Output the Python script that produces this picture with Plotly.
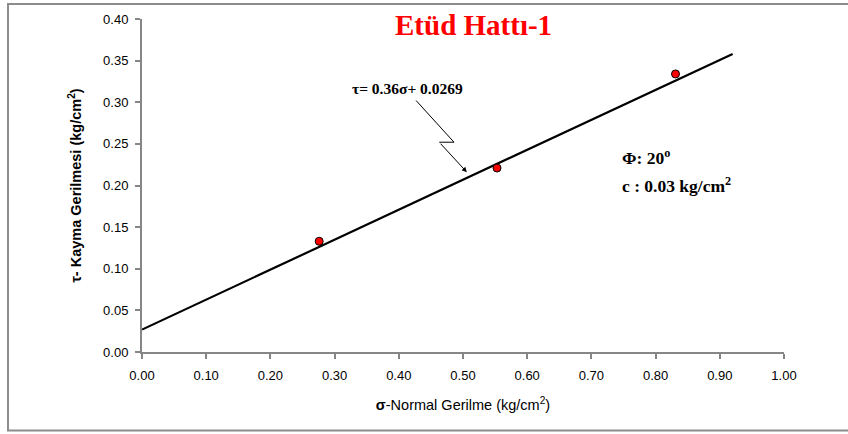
import plotly.graph_objects as go

# Direct shear test results: normal stress vs shear stress (kg/cm2)
sigma = [0.276, 0.553, 0.831]
tau = [0.133, 0.221, 0.334]

# Mohr-Coulomb failure envelope: tau = 0.36 sigma + 0.0269
slope = 0.36
intercept = 0.0269
fit_x = [0.0, 0.92]
fit_y = [slope * x + intercept for x in fit_x]

x_ticks = [0.0, 0.1, 0.2, 0.3, 0.4, 0.5, 0.6, 0.7, 0.8, 0.9, 1.0]
y_ticks = [0.0, 0.05, 0.1, 0.15, 0.2, 0.25, 0.3, 0.35, 0.4]

sans = "Liberation Sans Narrow, Arial Narrow, Liberation Sans, Arial"
tick_font = dict(family=sans, size=13, color="#000")
serif = "Liberation Serif, Times New Roman, serif"

fig = go.Figure()
fig.add_trace(go.Scatter(x=fit_x, y=fit_y, mode="lines",
                         line=dict(color="black", width=2.2), showlegend=False))
fig.add_trace(go.Scatter(x=sigma, y=tau, mode="markers",
                         marker=dict(color="#ff0000", size=8, line=dict(color="black", width=1)),
                         showlegend=False))

fig.update_xaxes(range=[0, 1.0], tickvals=x_ticks, ticktext=[f"{v:.2f}" for v in x_ticks],
                 showgrid=False, zeroline=False, showline=True, linecolor="#868686", linewidth=2,
                 ticks="outside", ticklen=5, tickcolor="#868686", tickwidth=1.5,
                 tickfont=tick_font, ticklabelstandoff=5,
                 title=dict(text="<b>σ</b>-Normal Gerilme (kg/cm<sup>2</sup>)",
                            font=dict(family=sans, size=14.5, color="#000"),
                            standoff=18))
fig.update_yaxes(range=[0, 0.40], tickvals=y_ticks, ticktext=[f"{v:.2f}" for v in y_ticks],
                 showgrid=False, zeroline=False, showline=True, linecolor="#868686", linewidth=2,
                 ticks="outside", ticklen=5, tickcolor="#868686", tickwidth=1.5,
                 tickfont=tick_font, ticklabelstandoff=4,
                 title=dict(text="<b>τ- Kayma Gerilmesi (kg/cm<sup>2</sup>)</b>",
                            font=dict(family="Liberation Sans, Arial", size=14.5, color="#000"),
                            standoff=18))

# Equation label with zig-zag leader
fig.add_annotation(x=0.414, y=0.3165, xref="x", yref="y", text="<b>τ= 0.36σ+ 0.0269</b>",
                   showarrow=False, font=dict(family=serif, size=15.5, color="#000"))
fig.add_shape(type="path", xref="x", yref="y",
              path="M 0.427 0.302 L 0.486 0.252 L 0.463 0.252",
              line=dict(color="black", width=1))
fig.add_annotation(x=0.506, y=0.216, ax=0.463, ay=0.252, xref="x", yref="y", axref="x", ayref="y",
                   text="", showarrow=True, arrowhead=2, arrowsize=1, arrowwidth=1, arrowcolor="black",
                   standoff=0)

# Strength parameters
fig.add_annotation(x=0.744, y=0.234, xref="x", yref="y", xanchor="left",
                   text="<b>Φ: 20<sup>o</sup></b>", showarrow=False,
                   font=dict(family=serif, size=17.5, color="#000"))
fig.add_annotation(x=0.744, y=0.201, xref="x", yref="y", xanchor="left",
                   text="<b>c : 0.03 kg/cm<sup>2</sup></b>", showarrow=False,
                   font=dict(family=serif, size=17.5, color="#000"))

# Chart title
fig.add_annotation(x=0.517, y=0.393, xref="x", yref="y", text="<b>Etüd Hattı-1</b>",
                   showarrow=False, font=dict(family=serif, size=29, color="#ff0000"))

# Outer frame
fig.add_shape(type="rect", xref="paper", yref="paper", x0=-0.2087, x1=1.3, y0=-0.2358, y1=1.0448,
              line=dict(color="#8c8c8c", width=2), layer="below")

fig.update_layout(width=848, height=434, margin=dict(l=142, r=64, t=17, b=82),
                  paper_bgcolor="white", plot_bgcolor="white")

fig.write_html("out.html")
